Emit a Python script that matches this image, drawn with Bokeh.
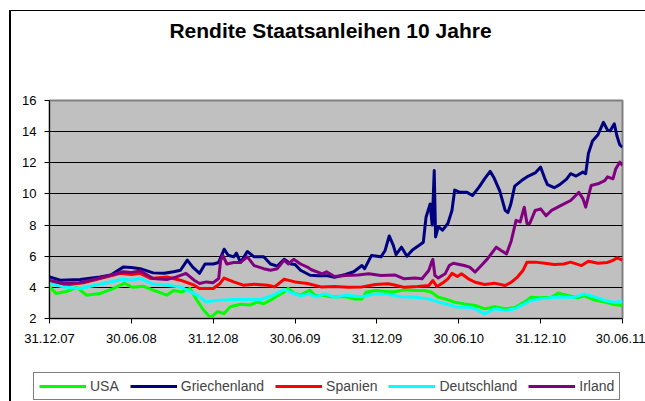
from bokeh.plotting import figure
from bokeh.layouts import column
from bokeh.models import Legend, LegendItem, FixedTicker, Range1d, Label
from bokeh.embed import file_html
from bokeh.resources import INLINE

# x values are months after 31.12.07
tick_months = [0, 6, 12, 18, 24, 30, 36, 42]
tick_labels = ["31.12.07", "30.06.08", "31.12.08", "30.06.09",
               "31.12.09", "30.06.10", "31.12.10", "30.06.11"]
y_ticks = [2, 4, 6, 8, 10, 12, 14, 16]

usa_x = [0, 0.5, 1.3, 2.0, 2.7, 3.7, 4.7, 5.5, 6.1, 6.9, 7.6, 8.6, 9.1, 9.7, 10.3, 10.8, 11.3, 11.8,
         12.3, 12.8, 13.25, 14, 14.7, 15.2, 15.7, 16.4, 17.2, 17.5, 17.9, 18.4, 19.1, 19.5, 20, 20.6,
         21.7, 22.3, 22.9, 23.2, 23.9, 24.8, 25.3, 26, 26.8, 27.5, 28, 28.5, 29.2, 29.7, 30.4, 31.2,
         31.9, 32.6, 33.4, 34.1, 34.8, 35.3, 36, 36.8, 37.3, 38, 38.7, 39.2, 39.9, 40.7, 41.4, 42]
usa_y = [4.03, 3.6, 3.75, 4.0, 3.5, 3.6, 3.93, 4.25, 4.0, 4.07, 3.82, 3.5, 3.8, 3.7, 3.93, 3.18, 2.53, 2.06,
         2.43, 2.32, 2.75, 2.92, 2.86, 3.05, 2.95, 3.28, 3.7, 3.93, 3.65, 3.5, 3.82, 3.45, 3.5, 3.39,
         3.4, 3.26, 3.26, 3.69, 3.8, 3.72, 3.72, 3.84, 3.8, 3.8, 3.69, 3.37, 3.2, 3.05, 2.94, 2.84,
         2.62, 2.75, 2.62, 2.7, 3.05, 3.37, 3.33, 3.37, 3.63, 3.48, 3.33, 3.45, 3.2, 3.05, 2.9, 2.84]

gr_x = [0, 0.8, 2.25, 3.7, 4.5, 5.4, 6, 6.65, 7.6, 8.4, 9.1, 9.6, 10.1, 10.5, 11, 11.4, 12, 12.4, 12.8,
        13.1, 13.5, 13.7, 14, 14.5, 15, 15.7, 16.2, 16.7, 17.2, 17.7, 18, 18.4, 19.1, 19.7, 20.4, 20.9,
        21.7, 22.3, 22.9, 23.1, 23.6, 24.3, 24.6, 24.9, 25.2, 25.4, 25.8, 26.2, 26.6, 27.1, 27.4, 27.6,
        27.9, 28.05, 28.2, 28.3, 28.5, 28.8, 29.2, 29.5, 29.7, 30.1, 30.6, 31.0, 31.5, 31.9, 32.3, 32.6,
        33.0, 33.4, 33.6, 33.8, 34.1, 34.6, 35.1, 35.6, 36.0, 36.3, 36.5, 37.0, 37.4, 37.9, 38.2, 38.6,
        39.1, 39.3, 39.5, 39.8, 40.2, 40.6, 40.9, 41.1, 41.4, 41.6, 41.8, 42]
gr_y = [4.67, 4.46, 4.5, 4.67, 4.8, 5.3, 5.27, 5.2, 4.93, 4.9, 5.0, 5.1, 5.75, 5.3, 4.9, 5.5, 5.5, 5.6, 6.45,
        6.06, 5.96, 6.2, 5.6, 6.3, 5.96, 5.96, 5.5, 5.36, 5.8, 5.5, 5.47, 5.1, 4.78, 4.75, 4.75, 4.65,
        4.83, 5.0, 5.4, 5.2, 6.05, 5.96, 6.37, 7.3, 6.7, 6.1, 6.58, 6.0, 6.4, 6.7, 6.9, 8.5,
        9.35, 8.0, 11.5, 7.24, 7.9, 7.67, 8.1, 8.94, 10.25, 10.1, 10.1, 9.9, 10.45, 10.98, 11.45, 11.0,
        10.2, 8.94, 8.8, 9.3, 10.5, 10.86, 11.15, 11.35, 11.72, 11.0, 10.6, 10.4, 10.6, 10.95, 11.3, 11.15,
        11.4, 11.3, 12.6, 13.4, 13.8, 14.6, 14.1, 14.05, 14.5, 13.7, 13.15, 13.0]

es_x = [0, 1, 2.5, 3.7, 5.2, 6, 6.65, 7.4, 8.6, 9.6, 10.6, 11, 12, 12.5, 12.8, 13.5, 14.2, 15, 16, 16.5,
        17.2, 18, 18.9, 19.9, 20.9, 21.9, 22.9, 23.9, 24.8, 25.3, 26, 27, 27.8, 28.1, 28.4, 28.9, 29.2,
        29.5, 29.9, 30.2, 30.7, 31.2, 31.9, 32.6, 33.4, 33.85, 34.3, 34.7, 35, 35.6, 36.3, 37, 37.7,
        38.2, 39, 39.5, 40.2, 40.9, 41.3, 41.6, 42]
es_y = [4.35, 4.14, 4.29, 4.57, 4.9, 4.82, 4.9, 4.57, 4.67, 4.46, 4.14, 3.93, 3.93, 4.25, 4.6, 4.35, 4.14,
        4.2, 4.14, 4.03, 4.52, 4.35, 4.25, 4.03, 4.05, 4.0, 4.03, 4.18, 4.23, 4.15, 4.0, 4.05, 4.12, 4.44,
        4.05, 4.33, 4.55, 4.9, 4.7, 4.87, 4.55, 4.33, 4.18, 4.27, 4.12, 4.33, 4.66, 5.08, 5.62, 5.62,
        5.55, 5.47, 5.5, 5.62, 5.4, 5.68, 5.55, 5.6, 5.73, 5.9, 5.75]

de_x = [0, 1, 2.25, 3.7, 5.4, 6, 6.65, 7.6, 8.6, 9.6, 10.6, 11, 11.5, 12.5, 13.5, 14.5, 15.5, 16.4, 17.2,
        17.7, 18.4, 19, 19.5, 20.2, 20.9, 21.7, 22.9, 23.9, 24.8, 25.8, 26.8, 27.8, 28.5, 29.2, 29.95,
        30.7, 31.2, 31.9, 32.6, 33.4, 34.1, 34.6, 35.3, 36, 37, 37.7, 38.5, 39.2, 39.9, 40.7, 41.4, 42]
de_y = [4.25, 4.03, 3.93, 4.2, 4.52, 4.46, 4.57, 4.2, 4.14, 4.03, 3.6, 3.39, 3.07, 3.18, 3.22, 3.22, 3.22,
        3.5, 3.86, 3.67, 3.45, 3.58, 3.4, 3.58, 3.37, 3.5, 3.4, 3.58, 3.55, 3.4, 3.37, 3.26, 3.05, 2.9,
        2.73, 2.73, 2.62, 2.3, 2.62, 2.51, 2.62, 2.84, 3.16, 3.26, 3.37, 3.37, 3.37, 3.58, 3.4, 3.16,
        3.05, 3.1]

ie_x = [0, 1, 2.2, 3.7, 5.4, 6, 6.65, 7.6, 8.6, 9.3, 10, 10.6, 11, 11.5, 12, 12.4, 12.55, 12.7, 13, 13.5,
        14, 14.5, 15, 15.7, 16.2, 16.7, 17.2, 17.5, 17.9, 18.4, 18.9, 19.2, 20, 20.3, 20.9, 21.7, 22.6,
        23.4, 24.3, 25.3, 26, 26.8, 27.3, 27.8, 28, 28.1, 28.25, 28.5, 29, 29.3, 29.6, 30.4, 30.8, 31.2,
        31.65, 32.1, 32.75, 33.1, 33.5, 33.85, 34.2, 34.5, 34.8, 35.0, 35.2, 35.6, 36.0, 36.4, 36.8,
        37.5, 38.2, 38.8, 39.1, 39.3, 39.7, 40.2, 40.7, 40.9, 41.3, 41.5, 41.8, 42]
ie_y = [4.46, 4.25, 4.3, 4.6, 5.0, 4.95, 5.06, 4.57, 4.5, 4.67, 4.9, 4.46, 4.25, 4.35, 4.3, 4.57, 5.75,
        6.06, 5.5, 5.6, 5.6, 5.96, 5.4, 5.2, 5.1, 5.2, 5.75, 5.5, 5.8, 5.5, 5.3, 5.13, 4.87, 5.0, 4.7,
        4.76, 4.8, 4.87, 4.76, 4.8, 4.55, 4.6, 4.55, 5.08, 5.6, 5.8, 4.76, 4.6, 4.87, 5.4, 5.55, 5.4,
        5.3, 4.98, 5.4, 5.83, 6.58, 6.37, 6.15, 7.0, 8.3, 8.2, 9.15, 8.1, 8.1, 8.94, 9.04, 8.6, 8.94,
        9.26, 9.58, 10.1, 9.7, 9.15, 10.54, 10.65, 10.86, 11.1, 10.97, 11.6, 12.04, 11.83]

series = [
    ("USA", usa_x, usa_y, "#00FF00"),
    ("Griechenland", gr_x, gr_y, "#000080"),
    ("Spanien", es_x, es_y, "#FF0000"),
    ("Deutschland", de_x, de_y, "#00FFFF"),
    ("Irland", ie_x, ie_y, "#800080"),
]
title_text = "Rendite Staatsanleihen 10 Jahre"

FONT = "Liberation Sans"
W = 634


def blank(height, y_start=0):
    f = figure(width=W, height=height, output_backend="svg", toolbar_location=None,
               x_axis_type=None, y_axis_type=None,
               x_range=Range1d(0, W), y_range=Range1d(y_start, y_start + height),
               min_border=0, min_border_left=0, min_border_right=0,
               min_border_top=0, min_border_bottom=0, frame_align=False)
    f.outline_line_color = None
    f.background_fill_color = "white"
    f.border_fill_color = "white"
    f.xgrid.visible = False
    f.ygrid.visible = False
    return f


# ---- title strip ----
tfig = blank(49)
tfig.add_layout(Label(x=319, y=30, text=title_text, text_font=FONT,
                      text_font_size="21px", text_font_style="bold",
                      text_align="center", text_baseline="middle", text_color="black"))

# ---- main chart ----
p = figure(width=W, height=305, output_backend="svg", toolbar_location=None,
           x_range=Range1d(0, 42), y_range=Range1d(2, 16), frame_align=False,
           min_border_left=38, min_border_right=23, min_border_top=40, min_border_bottom=47)
p.background_fill_color = "#C0C0C0"
p.border_fill_color = "white"
p.outline_line_color = "#808080"
p.outline_line_width = 2

p.xgrid.visible = False
p.ygrid.ticker = FixedTicker(ticks=y_ticks)
p.ygrid.grid_line_color = "black"
p.ygrid.grid_line_width = 1

p.xaxis.ticker = FixedTicker(ticks=tick_months)
p.xaxis.major_label_overrides = {m: l for m, l in zip(tick_months, tick_labels)}
p.yaxis.ticker = FixedTicker(ticks=y_ticks)

for ax in (p.xaxis, p.yaxis):
    ax.axis_line_color = "black"
    ax.axis_line_width = 1
    ax.major_tick_line_color = "black"
    ax.major_tick_out = 5
    ax.major_tick_in = 0
    ax.minor_tick_line_color = None
    ax.major_label_text_font = FONT
    ax.major_label_text_font_size = "13px"
    ax.major_label_text_color = "black"
p.xaxis.major_label_standoff = 10
p.yaxis.major_label_standoff = 8

for name, xs, ys, col in series:
    p.line(xs, ys, line_color=col, line_width=3, line_join="round")

# ---- legend strip (its proxy lines lie outside this strip's visible range) ----
lfig = blank(36, y_start=-100)
items = []
for name, xs, ys, col in series:
    r = lfig.line(xs, ys, line_color=col, line_width=3)
    items.append(LegendItem(label=name, renderers=[r]))
legend = Legend(items=items, orientation="horizontal", location=(22, 1),
                glyph_width=47, glyph_height=16, label_height=16, label_standoff=4,
                spacing=11, padding=5, margin=0,
                label_text_font=FONT, label_text_font_size="14px",
                border_line_color="black", border_line_width=1,
                background_fill_color="white", background_fill_alpha=1)
lfig.add_layout(legend, "center")

layout = column(tfig, p, lfig, spacing=0)
layout.styles = {"border-left": "2px solid black", "border-top": "1px solid black",
                 "margin-left": "9px", "margin-top": "10px"}

open("out.html", "w").write(file_html(layout, INLINE))
